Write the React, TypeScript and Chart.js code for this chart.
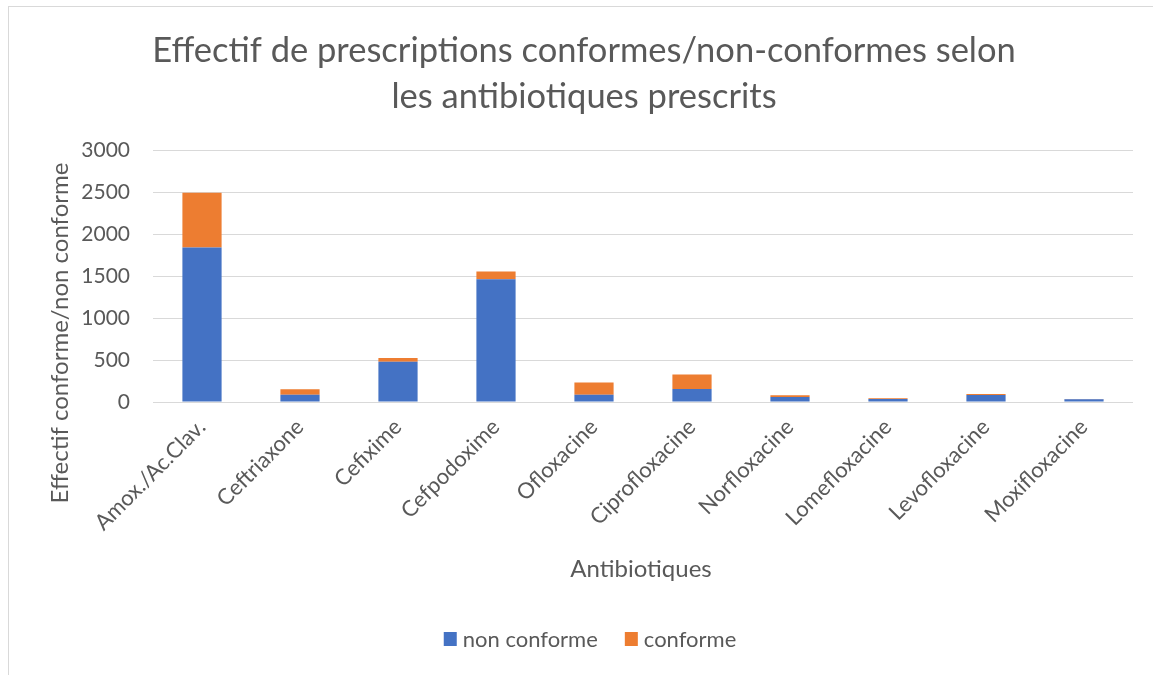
import React, { useEffect, useRef } from 'react';
import { Chart, registerables } from 'chart.js';

Chart.register(...registerables);

const categories = [
  'Amox./Ac.Clav.',
  'Ceftriaxone',
  'Cefixime',
  'Cefpodoxime',
  'Ofloxacine',
  'Ciprofloxacine',
  'Norfloxacine',
  'Lomefloxacine',
  'Levofloxacine',
  'Moxifloxacine',
];
const nonConforme = [1840, 85, 480, 1460, 86, 156, 60, 36, 84, 32];
const conforme = [650, 66, 44, 95, 147, 172, 20, 8, 12, 4];
const seriesNames = ['non conforme', 'conforme'];
const seriesColors = ['#4472C4', '#ED7D31'];
const titleLines = ['Effectif de prescriptions conformes/non-conformes selon', 'les antibiotiques prescrits'];
const yTitle = 'Effectif conforme/non conforme';
const xTitle = 'Antibiotiques';

const FONT = 'Lato, "Noto Sans", sans-serif';
const TEXT = '#595959';

const textPlugin = {
  id: 'customText',
  afterDraw(chart: any) {
    const ctx = chart.ctx as CanvasRenderingContext2D;
    ctx.save();
    ctx.fillStyle = TEXT;
    // Title
    ctx.font = `34.5px ${FONT}`;
    ctx.textAlign = 'center';
    ctx.textBaseline = 'alphabetic';
    ctx.fillText(titleLines[0], 584, 62);
    ctx.fillText(titleLines[1], 584, 108);
    // Y title
    ctx.save();
    ctx.font = `24px ${FONT}`;
    ctx.translate(68, 333);
    ctx.rotate(-Math.PI / 2);
    ctx.textAlign = 'center';
    ctx.textBaseline = 'alphabetic';
    ctx.fillText(yTitle, 0, 0);
    ctx.restore();
    // X title
    ctx.font = `24px ${FONT}`;
    ctx.textAlign = 'center';
    ctx.textBaseline = 'alphabetic';
    ctx.fillText(xTitle, 641, 577);
    // Legend
    ctx.font = `22px ${FONT}`;
    const box = 13;
    const gapBox = 6;
    const gapItem = 27;
    const widths = seriesNames.map((n) => ctx.measureText(n).width);
    const total = widths.reduce((a, w) => a + box + gapBox + w, 0) + gapItem * (seriesNames.length - 1);
    let x = 590 - total / 2;
    ctx.textAlign = 'left';
    for (let i = 0; i < seriesNames.length; i++) {
      ctx.fillStyle = seriesColors[i];
      ctx.fillRect(x, 632, box, 14);
      ctx.fillStyle = TEXT;
      ctx.fillText(seriesNames[i], x + box + gapBox, 647);
      x += box + gapBox + widths[i] + gapItem;
    }
    ctx.restore();
  },
};

export default function App() {
  const canvasRef = useRef<HTMLCanvasElement | null>(null);

  useEffect(() => {
    const canvas = canvasRef.current;
    if (!canvas) return;
    const chart = new Chart(canvas, {
      type: 'bar',
      data: {
        labels: categories,
        datasets: [
          {
            label: seriesNames[0],
            data: nonConforme,
            backgroundColor: seriesColors[0],
            categoryPercentage: 1,
            barPercentage: 0.4,
          },
          {
            label: seriesNames[1],
            data: conforme,
            backgroundColor: seriesColors[1],
            categoryPercentage: 1,
            barPercentage: 0.4,
          },
        ],
      },
      options: {
        animation: false,
        responsive: false,
        devicePixelRatio: 1,
        layout: { padding: { left: 0, right: 20, top: 150, bottom: 0 } },
        plugins: {
          legend: { display: false },
          title: { display: false },
          tooltip: { enabled: false },
        },
        scales: {
          x: {
            stacked: true,
            grid: { display: false, drawTicks: false },
            border: { display: false },
            ticks: {
              color: TEXT,
              font: { family: FONT, size: 22 },
              minRotation: 45,
              maxRotation: 45,
              padding: 12,
              autoSkip: false,
            },
            afterFit(scale: any) {
              scale.height = 273;
            },
          },
          y: {
            stacked: true,
            min: 0,
            max: 3000,
            grid: { color: '#d9d9d9', lineWidth: 1, drawTicks: false },
            border: { display: false },
            ticks: {
              stepSize: 500,
              color: TEXT,
              font: { family: FONT, size: 21 },
              padding: 23,
              callback: (v: any) => String(v),
            },
            afterFit(scale: any) {
              scale.width = 153;
            },
          },
        },
      },
      plugins: [textPlugin],
    });
    return () => chart.destroy();
  }, []);

  return (
    <div
      style={{
        position: 'absolute',
        left: 0,
        top: 0,
        width: 1153,
        height: 675,
        overflow: 'hidden',
        background: '#ffffff',
      }}
    >
      <div
        style={{
          position: 'absolute',
          left: 8,
          top: 6,
          width: 1160,
          height: 700,
          borderTop: '1.5px solid #d9d9d9',
          borderLeft: '1.5px solid #d9d9d9',
        }}
      />
      <canvas
        ref={canvasRef}
        width={1153}
        height={675}
        style={{ position: 'absolute', left: 0, top: 0, width: 1153, height: 675 }}
      />
    </div>
  );
}
